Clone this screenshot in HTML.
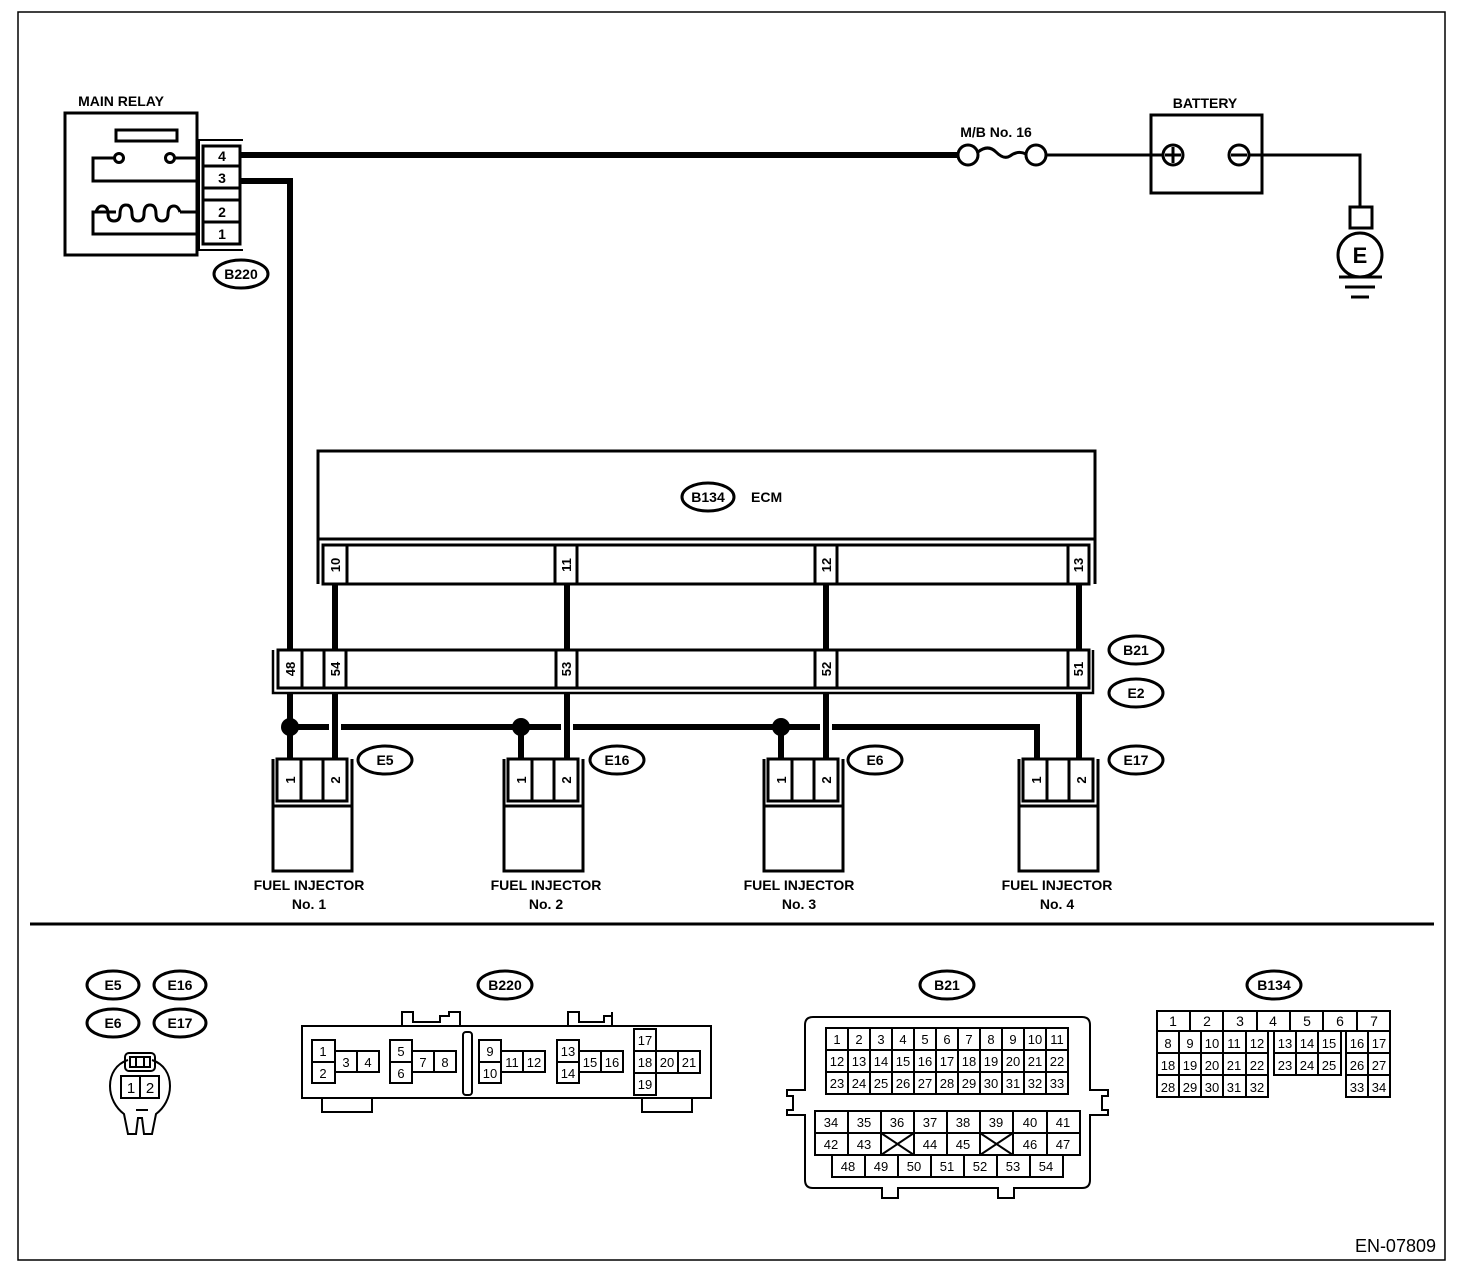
<!DOCTYPE html>
<html><head><meta charset="utf-8"><style>
html,body{margin:0;padding:0;background:#fff}
svg{display:block}
text{font-family:"Liberation Sans",Arial,sans-serif;fill:#000}
.b{font-weight:bold}
</style></head><body>
<svg width="1472" height="1272" viewBox="0 0 1472 1272" xmlns="http://www.w3.org/2000/svg">
<rect x="0" y="0" width="1472" height="1272" fill="#fff"/>
<rect x="18" y="12" width="1427" height="1248" fill="none" stroke="#000" stroke-width="1.5"/>
<line x1="30" y1="924" x2="1434" y2="924" stroke="#000" stroke-width="3"/>
<text x="1436" y="1252" font-size="18" text-anchor="end">EN-07809</text>

<!-- MAIN RELAY -->
<text x="121" y="106" font-size="14" class="b" text-anchor="middle">MAIN RELAY</text>
<g fill="none" stroke="#000" stroke-width="3">
<rect x="65" y="113" width="132" height="142"/>
<rect x="116" y="130" width="61" height="11"/>
<polyline points="197,158 175,158"/><circle cx="170" cy="158" r="4.5"/>
<circle cx="119" cy="158" r="4.5"/><polyline points="114,158 93,158 93,181 197,181"/>
<polyline points="197,212 180,212"/>
<path d="M180,212 q-2,-6 -6,-6 q-6,0 -6,8 q0,7 -6,7 q-6,0 -6,-7 q0,-9 -6,-9 q-6,0 -6,9 q0,7 -6,7 q-6,0 -6,-7 q0,-9 -6,-9 q-6,0 -6,9 q0,7 -6,7 q-6,0 -6,-7 q0,-8 -6,-8 q-4,0 -6,6"/>
<polyline points="116,212 93,212 93,234 197,234"/>
<rect x="203" y="146" width="37" height="98"/>
<line x1="203" y1="166" x2="240" y2="166"/><line x1="203" y1="188" x2="240" y2="188"/>
<line x1="203" y1="200" x2="240" y2="200"/><line x1="203" y1="222" x2="240" y2="222"/>
<polyline points="243,140 199,140 199,250 243,250" stroke-width="2"/>
</g>
<g font-size="14" class="b" text-anchor="middle">
<text x="222" y="161">4</text><text x="222" y="183">3</text><text x="222" y="217">2</text><text x="222" y="239">1</text>
</g>
<ellipse cx="241" cy="274" rx="27" ry="14" fill="none" stroke="#000" stroke-width="3"/>
<text x="241" y="279" font-size="14" class="b" text-anchor="middle">B220</text>

<!-- wires top -->
<line x1="240" y1="155" x2="958" y2="155" stroke="#000" stroke-width="6"/>
<polyline points="240,181 290,181 290,650" fill="none" stroke="#000" stroke-width="6"/>
<!-- fuse -->
<g fill="none" stroke="#000" stroke-width="3">
<circle cx="968" cy="155" r="10"/><circle cx="1036" cy="155" r="10"/>
<path d="M978,152 q10,-8 18,0 q8,8 14,4 q8,-6 16,-2"/>
<line x1="1046" y1="155" x2="1163" y2="155"/>
<rect x="1151" y="115" width="111" height="78"/>
<circle cx="1173" cy="155" r="10"/><line x1="1173" y1="147" x2="1173" y2="163"/><line x1="1165" y1="155" x2="1181" y2="155"/>
<circle cx="1239" cy="155" r="10"/><line x1="1231" y1="155" x2="1247" y2="155"/>
<polyline points="1249,155 1360,155 1360,207"/>
<rect x="1350" y="207" width="22" height="21"/>
<circle cx="1360" cy="255" r="22"/>
<line x1="1339" y1="277" x2="1382" y2="277"/><line x1="1345" y1="287" x2="1375" y2="287"/><line x1="1351" y1="297" x2="1369" y2="297"/>
</g>
<text x="996" y="137" font-size="14" class="b" text-anchor="middle">M/B No. 16</text>
<text x="1205" y="108" font-size="14" class="b" text-anchor="middle">BATTERY</text>
<text x="1360" y="263" font-size="22" class="b" text-anchor="middle">E</text>

<!-- ECM -->
<g fill="none" stroke="#000" stroke-width="3">
<polyline points="318,584 318,451 1095,451 1095,584"/>
<line x1="318" y1="539" x2="1095" y2="539"/>
<rect x="323" y="545" width="766" height="39"/>
<line x1="347" y1="545" x2="347" y2="584"/>
<line x1="555" y1="545" x2="555" y2="584"/><line x1="577" y1="545" x2="577" y2="584"/>
<line x1="815" y1="545" x2="815" y2="584"/><line x1="837" y1="545" x2="837" y2="584"/>
<line x1="1068" y1="545" x2="1068" y2="584"/>
</g>
<ellipse cx="708" cy="497" rx="26" ry="14" fill="none" stroke="#000" stroke-width="3"/>
<text x="708" y="502" font-size="14" class="b" text-anchor="middle">B134</text>
<text x="751" y="502" font-size="14" class="b">ECM</text>
<g font-size="13" class="b" text-anchor="middle">
<text transform="translate(340,565) rotate(-90)">10</text>
<text transform="translate(571,565) rotate(-90)">11</text>
<text transform="translate(831,565) rotate(-90)">12</text>
<text transform="translate(1083,565) rotate(-90)">13</text>
</g>
<g stroke="#000" stroke-width="6">
<line x1="335" y1="584" x2="335" y2="650"/><line x1="567" y1="584" x2="567" y2="650"/>
<line x1="826" y1="584" x2="826" y2="650"/><line x1="1079" y1="584" x2="1079" y2="650"/>
</g>
<!-- B21/E2 row -->
<g fill="none" stroke="#000" stroke-width="3">
<rect x="278" y="650" width="811" height="38"/>
<polyline points="1093,650 1093,693 273,693 273,650" stroke-width="2.5"/>
<line x1="302" y1="650" x2="302" y2="688"/><line x1="324" y1="650" x2="324" y2="688"/><line x1="346" y1="650" x2="346" y2="688"/>
<line x1="556" y1="650" x2="556" y2="688"/><line x1="577" y1="650" x2="577" y2="688"/>
<line x1="815" y1="650" x2="815" y2="688"/><line x1="837" y1="650" x2="837" y2="688"/>
<line x1="1068" y1="650" x2="1068" y2="688"/>
</g>
<g font-size="13" class="b" text-anchor="middle">
<text transform="translate(295,669) rotate(-90)">48</text>
<text transform="translate(340,669) rotate(-90)">54</text>
<text transform="translate(571,669) rotate(-90)">53</text>
<text transform="translate(831,669) rotate(-90)">52</text>
<text transform="translate(1083,669) rotate(-90)">51</text>
</g>
<g fill="none" stroke="#000" stroke-width="3">
<ellipse cx="1136" cy="650" rx="27" ry="14"/><ellipse cx="1136" cy="693" rx="27" ry="14"/>
<ellipse cx="385" cy="760" rx="27" ry="14"/><ellipse cx="617" cy="760" rx="27" ry="14"/>
<ellipse cx="875" cy="760" rx="27" ry="14"/><ellipse cx="1136" cy="760" rx="27" ry="14"/>
</g>
<g font-size="14" class="b" text-anchor="middle">
<text x="1136" y="655">B21</text><text x="1136" y="698">E2</text>
<text x="385" y="765">E5</text><text x="617" y="765">E16</text><text x="875" y="765">E6</text><text x="1136" y="765">E17</text>
</g>
<g stroke="#000" stroke-width="6" fill="none">
<line x1="290" y1="693" x2="290" y2="759"/>
<line x1="335" y1="693" x2="335" y2="759"/>
<line x1="567" y1="693" x2="567" y2="759"/>
<line x1="826" y1="693" x2="826" y2="759"/>
<line x1="1079" y1="693" x2="1079" y2="759"/>
<line x1="290" y1="727" x2="329" y2="727"/>
<line x1="341" y1="727" x2="561" y2="727"/>
<line x1="573" y1="727" x2="820" y2="727"/>
<polyline points="832,727 1037,727 1037,759"/>
<line x1="521" y1="727" x2="521" y2="759"/>
<line x1="781" y1="727" x2="781" y2="759"/>
</g>
<circle cx="290" cy="727" r="9"/><circle cx="521" cy="727" r="9"/><circle cx="781" cy="727" r="9"/>

<g id="inj" fill="none" stroke="#000" stroke-width="3">
<rect x="277" y="759" width="70" height="42"/>
<line x1="301" y1="759" x2="301" y2="801"/><line x1="323" y1="759" x2="323" y2="801"/>
<polyline points="273,759 273,871 352,871 352,759"/>
<line x1="273" y1="806" x2="352" y2="806"/>
</g>
<use href="#inj" transform="translate(231,0)"/>
<use href="#inj" transform="translate(491,0)"/>
<use href="#inj" transform="translate(746,0)"/>
<g font-size="13" class="b" text-anchor="middle">
<text transform="translate(295,780) rotate(-90)">1</text><text transform="translate(340,780) rotate(-90)">2</text>
<text transform="translate(526,780) rotate(-90)">1</text><text transform="translate(571,780) rotate(-90)">2</text>
<text transform="translate(786,780) rotate(-90)">1</text><text transform="translate(831,780) rotate(-90)">2</text>
<text transform="translate(1041,780) rotate(-90)">1</text><text transform="translate(1086,780) rotate(-90)">2</text>
</g>
<g font-size="14" class="b" text-anchor="middle">
<text x="309" y="890">FUEL INJECTOR</text><text x="309" y="909">No. 1</text>
<text x="546" y="890">FUEL INJECTOR</text><text x="546" y="909">No. 2</text>
<text x="799" y="890">FUEL INJECTOR</text><text x="799" y="909">No. 3</text>
<text x="1057" y="890">FUEL INJECTOR</text><text x="1057" y="909">No. 4</text>
</g>

<g fill="none" stroke="#000" stroke-width="3">
<ellipse cx="113" cy="985" rx="26" ry="14"/><ellipse cx="180" cy="985" rx="26" ry="14"/>
<ellipse cx="113" cy="1023" rx="26" ry="14"/><ellipse cx="180" cy="1023" rx="26" ry="14"/>
<ellipse cx="505" cy="985" rx="27" ry="14"/><ellipse cx="947" cy="985" rx="27" ry="14"/><ellipse cx="1274" cy="985" rx="27" ry="14"/>
</g>
<g font-size="14" class="b" text-anchor="middle">
<text x="113" y="990">E5</text><text x="180" y="990">E16</text><text x="113" y="1028">E6</text><text x="180" y="1028">E17</text>
<text x="505" y="990">B220</text><text x="947" y="990">B21</text><text x="1274" y="990">B134</text>
</g>
<g fill="none" stroke="#000" stroke-width="2">
<path d="M128,1060 c-12,4 -18,14 -18,26 c0,12 6,22 14,28 l4,20 h8 l2,-16 h4 l2,16 h8 l4,-20 c8,-6 14,-16 14,-28 c0,-12 -6,-22 -18,-26"/>
<rect x="125" y="1053" width="30" height="18" rx="4"/>
<rect x="130" y="1057" width="20" height="10"/>
<line x1="136" y1="1057" x2="136" y2="1067"/><line x1="144" y1="1057" x2="144" y2="1067"/>
<rect x="121" y="1076" width="38" height="22"/>
<line x1="140" y1="1076" x2="140" y2="1098"/>
<line x1="136" y1="1110" x2="148" y2="1110"/>
</g>
<g font-size="15" text-anchor="middle"><text x="131" y="1093">1</text><text x="150" y="1093">2</text></g>

<!-- B220 connector -->
<g fill="none" stroke="#000" stroke-width="2">
<rect x="302" y="1026" width="409" height="72"/>
<polyline points="322,1098 322,1112 372,1112 372,1098"/>
<polyline points="642,1098 642,1112 692,1112 692,1098"/>
<polyline points="402,1026 402,1012 413,1012 413,1022 440,1022 440,1016 449,1016 449,1012 460,1012 460,1026"/>
<polyline points="568,1026 568,1012 579,1012 579,1022 604,1022 604,1016 612,1016 612,1012 612,1026"/>
<rect x="463" y="1032" width="9" height="63" rx="3"/>
<rect x="312" y="1040" width="23" height="43"/><line x1="312" y1="1062" x2="335" y2="1062"/>
<rect x="335" y="1051" width="44" height="21"/><line x1="357" y1="1051" x2="357" y2="1072"/>
<rect x="390" y="1040" width="22" height="43"/><line x1="390" y1="1062" x2="412" y2="1062"/>
<rect x="412" y="1051" width="44" height="21"/><line x1="434" y1="1051" x2="434" y2="1072"/>
<rect x="479" y="1040" width="22" height="43"/><line x1="479" y1="1062" x2="501" y2="1062"/>
<rect x="501" y="1051" width="44" height="21"/><line x1="523" y1="1051" x2="523" y2="1072"/>
<rect x="557" y="1040" width="22" height="43"/><line x1="557" y1="1062" x2="579" y2="1062"/>
<rect x="579" y="1051" width="44" height="21"/><line x1="601" y1="1051" x2="601" y2="1072"/>
<rect x="634" y="1029" width="22" height="66"/><line x1="634" y1="1051" x2="656" y2="1051"/><line x1="634" y1="1073" x2="656" y2="1073"/>
<rect x="656" y="1051" width="44" height="22"/><line x1="678" y1="1051" x2="678" y2="1073"/>
</g>
<g font-size="13" text-anchor="middle">
<text x="323" y="1056">1</text><text x="323" y="1078">2</text><text x="346" y="1067">3</text><text x="368" y="1067">4</text>
<text x="401" y="1056">5</text><text x="401" y="1078">6</text><text x="423" y="1067">7</text><text x="445" y="1067">8</text>
<text x="490" y="1056">9</text><text x="490" y="1078">10</text><text x="512" y="1067">11</text><text x="534" y="1067">12</text>
<text x="568" y="1056">13</text><text x="568" y="1078">14</text><text x="590" y="1067">15</text><text x="612" y="1067">16</text>
<text x="645" y="1045">17</text><text x="645" y="1067">18</text><text x="645" y="1089">19</text><text x="667" y="1067">20</text><text x="689" y="1067">21</text>
</g>

<!-- B21 connector -->
<g fill="none" stroke="#000" stroke-width="2">
<path d="M813,1017 H1082 q8,0 8,8 V1090 H1108 V1096 H1102 V1110 H1108 V1115 H1090 V1180 q0,8 -8,8 H1014 V1198 H998 V1188 H898 V1198 H882 V1188 H813 q-8,0 -8,-8 V1115 H787 V1110 H793 V1096 H787 V1090 H805 V1025 q0,-8 8,-8z"/>
<rect x="826" y="1028" width="242" height="66"/>
<line x1="826" y1="1050" x2="1068" y2="1050"/><line x1="826" y1="1072" x2="1068" y2="1072"/>
<line x1="848" y1="1028" x2="848" y2="1094"/><line x1="870" y1="1028" x2="870" y2="1094"/><line x1="892" y1="1028" x2="892" y2="1094"/>
<line x1="914" y1="1028" x2="914" y2="1094"/><line x1="936" y1="1028" x2="936" y2="1094"/><line x1="958" y1="1028" x2="958" y2="1094"/>
<line x1="980" y1="1028" x2="980" y2="1094"/><line x1="1002" y1="1028" x2="1002" y2="1094"/><line x1="1024" y1="1028" x2="1024" y2="1094"/>
<line x1="1046" y1="1028" x2="1046" y2="1094"/>
<rect x="815" y="1111" width="265" height="44"/><line x1="815" y1="1133" x2="1080" y2="1133"/>
<line x1="848" y1="1111" x2="848" y2="1155"/><line x1="881" y1="1111" x2="881" y2="1155"/><line x1="914" y1="1111" x2="914" y2="1155"/>
<line x1="947" y1="1111" x2="947" y2="1155"/><line x1="980" y1="1111" x2="980" y2="1155"/><line x1="1013" y1="1111" x2="1013" y2="1155"/>
<line x1="1047" y1="1111" x2="1047" y2="1155"/>
<line x1="881" y1="1133" x2="914" y2="1155"/><line x1="914" y1="1133" x2="881" y2="1155"/>
<line x1="980" y1="1133" x2="1013" y2="1155"/><line x1="1013" y1="1133" x2="980" y2="1155"/>
<rect x="832" y="1155" width="231" height="22"/>
<line x1="865" y1="1155" x2="865" y2="1177"/><line x1="898" y1="1155" x2="898" y2="1177"/><line x1="931" y1="1155" x2="931" y2="1177"/>
<line x1="964" y1="1155" x2="964" y2="1177"/><line x1="997" y1="1155" x2="997" y2="1177"/><line x1="1030" y1="1155" x2="1030" y2="1177"/>
</g>
<g font-size="13" text-anchor="middle">
<text x="837" y="1044">1</text><text x="859" y="1044">2</text><text x="881" y="1044">3</text><text x="903" y="1044">4</text><text x="925" y="1044">5</text><text x="947" y="1044">6</text><text x="969" y="1044">7</text><text x="991" y="1044">8</text><text x="1013" y="1044">9</text><text x="1035" y="1044">10</text><text x="1057" y="1044">11</text>
<text x="837" y="1066">12</text><text x="859" y="1066">13</text><text x="881" y="1066">14</text><text x="903" y="1066">15</text><text x="925" y="1066">16</text><text x="947" y="1066">17</text><text x="969" y="1066">18</text><text x="991" y="1066">19</text><text x="1013" y="1066">20</text><text x="1035" y="1066">21</text><text x="1057" y="1066">22</text>
<text x="837" y="1088">23</text><text x="859" y="1088">24</text><text x="881" y="1088">25</text><text x="903" y="1088">26</text><text x="925" y="1088">27</text><text x="947" y="1088">28</text><text x="969" y="1088">29</text><text x="991" y="1088">30</text><text x="1013" y="1088">31</text><text x="1035" y="1088">32</text><text x="1057" y="1088">33</text>
<text x="831" y="1127">34</text><text x="864" y="1127">35</text><text x="897" y="1127">36</text><text x="930" y="1127">37</text><text x="963" y="1127">38</text><text x="996" y="1127">39</text><text x="1030" y="1127">40</text><text x="1063" y="1127">41</text>
<text x="831" y="1149">42</text><text x="864" y="1149">43</text><text x="930" y="1149">44</text><text x="963" y="1149">45</text><text x="1030" y="1149">46</text><text x="1063" y="1149">47</text>
<text x="848" y="1171">48</text><text x="881" y="1171">49</text><text x="914" y="1171">50</text><text x="947" y="1171">51</text><text x="980" y="1171">52</text><text x="1013" y="1171">53</text><text x="1046" y="1171">54</text>
</g>

<!-- B134 connector -->
<g fill="none" stroke="#000" stroke-width="2">
<rect x="1157" y="1011" width="233" height="20"/>
<line x1="1190" y1="1011" x2="1190" y2="1031"/><line x1="1223" y1="1011" x2="1223" y2="1031"/><line x1="1257" y1="1011" x2="1257" y2="1031"/>
<line x1="1290" y1="1011" x2="1290" y2="1031"/><line x1="1323" y1="1011" x2="1323" y2="1031"/><line x1="1357" y1="1011" x2="1357" y2="1031"/>
<path d="M1157,1031 V1097 H1268 V1031 M1157,1053 H1268 M1157,1075 H1268 M1179,1031 V1097 M1201,1031 V1097 M1223,1031 V1097 M1246,1031 V1097"/>
<path d="M1274,1031 V1075 H1341 V1031 M1274,1053 H1341 M1296,1031 V1075 M1318,1031 V1075"/>
<path d="M1346,1031 V1097 H1390 V1031 M1346,1053 H1390 M1346,1075 H1390 M1368,1031 V1097"/>
</g>
<g font-size="14" text-anchor="middle">
<text x="1173" y="1026">1</text><text x="1207" y="1026">2</text><text x="1240" y="1026">3</text><text x="1273" y="1026">4</text><text x="1307" y="1026">5</text><text x="1340" y="1026">6</text><text x="1374" y="1026">7</text>
</g>
<g font-size="13" text-anchor="middle">
<text x="1168" y="1048">8</text><text x="1190" y="1048">9</text><text x="1212" y="1048">10</text><text x="1234" y="1048">11</text><text x="1257" y="1048">12</text><text x="1285" y="1048">13</text><text x="1307" y="1048">14</text><text x="1329" y="1048">15</text><text x="1357" y="1048">16</text><text x="1379" y="1048">17</text>
<text x="1168" y="1070">18</text><text x="1190" y="1070">19</text><text x="1212" y="1070">20</text><text x="1234" y="1070">21</text><text x="1257" y="1070">22</text><text x="1285" y="1070">23</text><text x="1307" y="1070">24</text><text x="1329" y="1070">25</text><text x="1357" y="1070">26</text><text x="1379" y="1070">27</text>
<text x="1168" y="1092">28</text><text x="1190" y="1092">29</text><text x="1212" y="1092">30</text><text x="1234" y="1092">31</text><text x="1257" y="1092">32</text><text x="1357" y="1092">33</text><text x="1379" y="1092">34</text>
</g>
</svg>
</body></html>
